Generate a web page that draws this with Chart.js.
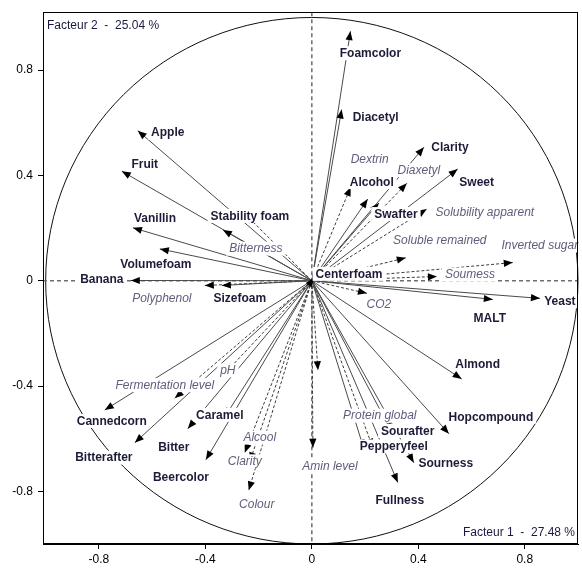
<!DOCTYPE html>
<html>
<head>
<meta charset="utf-8">
<script src="https://cdn.jsdelivr.net/npm/chart.js@4.4.1/dist/chart.umd.min.js"></script>
<style>
html, body { margin: 0; padding: 0; background: #fff; }
canvas { display: block; }
</style>
</head>
<body>
<canvas id="c" width="582" height="568"></canvas>
<script>
// Active variables (solid arrows, bold labels): coordinates on factors 1 and 2
const activeNames = ['Foamcolor','Diacetyl','Clarity','Sweet','Alcohol','Swafter','Centerfoam','Yeast','MALT','Almond',
  'Hopcompound','Sourafter','Pepperyfeel','Sourness','Fullness','Apple','Fruit','Vanillin','Stability foam','Volumefoam',
  'Banana','Sizefoam','Cannedcorn','Bitterafter','Bitter','Caramel','Beercolor'];
const activeF1 = [0.145,0.112,0.421,0.548,0.210,0.252,0.008,0.857,0.680,0.563,
  0.515,0.300,0.195,0.383,0.323,-0.654,-0.714,-0.672,-0.334,-0.571,
  -0.680,-0.338,-0.778,-0.665,-0.466,-0.327,-0.398];
const activeF2 = [0.948,0.650,0.507,0.424,0.310,0.295,0.011,-0.067,-0.071,-0.373,
  -0.581,-0.574,-0.637,-0.691,-0.766,0.570,0.416,0.201,0.193,0.121,
  0.001,-0.018,-0.491,-0.615,-0.562,-0.517,-0.680];

// Supplementary variables (dashed arrows, italic labels)
const supplNames = ['Dextrin','Diaxetyl','Solubility apparent','Soluble remained','Inverted sugar','Soumess','CO2',
  'Bitterness','Polyphenol','Fermentation level','pH','Alcool','Clarity','Colour','Amin level','Protein global',''];
const supplF1 = [0.146,0.357,0.432,0.353,0.755,0.470,0.207,-0.248,-0.402,-0.515,-0.323,-0.252,-0.233,-0.237,0.004,0.229,0.023];
const supplF2 = [0.356,0.370,0.272,0.087,0.069,0.016,-0.048,0.251,-0.018,-0.446,-0.348,-0.653,-0.686,-0.796,-0.634,-0.634,-0.340];

// Axis ticks and factor titles
const tickValues = [-0.8, -0.4, 0, 0.4, 0.8];
const factor1Title = 'Facteur 1  -  27.48 %';
const factor2Title = 'Facteur 2  -  25.04 %';

// Label placement: pixel offset of each label centre from its arrow tip
const activeNudge = {
  'Foamcolor':[20,22], 'Diacetyl':[34,8], 'Clarity':[26,0], 'Sweet':[19,13], 'Alcohol':[4,-17],
  'Swafter':[17,11], 'Centerfoam':[35,-4], 'Yeast':[20,3], 'MALT':[-3,19], 'Almond':[16,-15],
  'Hopcompound':[42,-17], 'Sourafter':[16,-1], 'Pepperyfeel':[30,-2], 'Sourness':[32,1], 'Fullness':[2,18],
  'Apple':[30,2], 'Fruit':[23,-7], 'Vanillin':[22,-10], 'Stability foam':[27,-14], 'Volumefoam':[-4,15],
  'Banana':[-29,-1], 'Sizefoam':[18,13], 'Cannedcorn':[7,11], 'Bitterafter':[-31,15], 'Bitter':[-14,18],
  'Caramel':[-5,-2], 'Beercolor':[-25,17]
};
const supplNudge = {
  'Dextrin':[19,-28], 'Diaxetyl':[12,-13], 'Solubility apparent':[58,3], 'Soluble remained':[34,-18],
  'Inverted sugar':[27,-17], 'Soumess':[33,-2], 'CO2':[12,11], 'Bitterness':[10,34], 'Polyphenol':[-43,13],
  'Fermentation level':[-10,-13], 'pH':[2,-2], 'Alcool':[15,-15], 'Clarity':[-5,0], 'Colour':[8,14],
  'Amin level':[17,19], 'Protein global':[7,-32], '':[0,0]
};

const FONT = "'Liberation Sans', Arial, sans-serif";
const BOLD_COLOR = '#1c1c38';
const ITALIC_COLOR = '#5e5e7c';

function arrowDataset(name, fx, fy, supplementary) {
  return {
    label: name,
    data: [{x: 0, y: 0}, {x: fx, y: fy}],
    showLine: true,
    pointRadius: 0,
    pointHoverRadius: 0,
    borderColor: supplementary ? '#3c3c3c' : '#4a4a4a',
    borderWidth: 1,
    borderDash: supplementary ? [3, 2] : [],
    supplementary: supplementary
  };
}

const datasets = [];
activeNames.forEach((n, i) => datasets.push(arrowDataset(n, activeF1[i], activeF2[i], false)));
supplNames.forEach((n, i) => datasets.push(arrowDataset(n, supplF1[i], supplF2[i], true)));

const decor = {
  id: 'circleOfCorrelations',
  beforeDatasetsDraw(chart) {
    const {ctx, chartArea: a, scales: {x, y}} = chart;
    const cx = x.getPixelForValue(0), cy = y.getPixelForValue(0);
    const rx = x.getPixelForValue(1) - cx, ry = cy - y.getPixelForValue(1);
    ctx.save();
    ctx.beginPath();
    ctx.ellipse(cx, cy, rx, ry, 0, 0, Math.PI * 2);
    ctx.strokeStyle = '#111';
    ctx.lineWidth = 1;
    ctx.stroke();
    ctx.setLineDash([4, 3]);
    ctx.strokeStyle = '#6e6e6e';
    ctx.lineWidth = 1.5;
    ctx.beginPath();
    ctx.moveTo(cx, a.top); ctx.lineTo(cx, a.bottom);
    ctx.moveTo(a.left, cy); ctx.lineTo(a.right, cy);
    ctx.stroke();
    ctx.restore();
  },
  afterDatasetsDraw(chart) {
    const ctx = chart.ctx;
    ctx.save();
    // arrowheads
    chart.data.datasets.forEach((ds, i) => {
      const pts = chart.getDatasetMeta(i).data;
      const p0 = pts[0], p1 = pts[1];
      const ang = Math.atan2(p1.y - p0.y, p1.x - p0.x);
      const L = 9, W = 3.6;
      ctx.beginPath();
      ctx.moveTo(p1.x, p1.y);
      ctx.lineTo(p1.x - L * Math.cos(ang) + W * Math.sin(ang), p1.y - L * Math.sin(ang) - W * Math.cos(ang));
      ctx.lineTo(p1.x - L * Math.cos(ang) - W * Math.sin(ang), p1.y - L * Math.sin(ang) + W * Math.cos(ang));
      ctx.closePath();
      ctx.fillStyle = '#000';
      ctx.fill();
    });
    // labels on white boxes
    ctx.textAlign = 'center';
    ctx.textBaseline = 'middle';
    chart.data.datasets.forEach((ds, i) => {
      if (!ds.label) return;
      const p1 = chart.getDatasetMeta(i).data[1];
      const nudge = (ds.supplementary ? supplNudge : activeNudge)[ds.label] || [0, 0];
      const lx = p1.x + nudge[0], ly = p1.y + nudge[1];
      ctx.font = (ds.supplementary ? 'italic ' : 'bold ') + '12px ' + FONT;
      const w = ctx.measureText(ds.label).width + 6;
      ctx.fillStyle = '#fff';
      ctx.fillRect(lx - w / 2, ly - 7, w, 14);
      ctx.fillStyle = ds.supplementary ? ITALIC_COLOR : BOLD_COLOR;
      ctx.fillText(ds.label, lx, ly + 0.5);
    });
    ctx.restore();
  },
  afterDraw(chart) {
    const {ctx, chartArea: a} = chart;
    ctx.save();
    ctx.strokeStyle = '#000';
    ctx.lineWidth = 1;
    ctx.strokeRect(Math.round(a.left) + 0.5, Math.round(a.top) + 0.5, Math.round(a.right - a.left) - 1, Math.round(a.bottom - a.top) - 1);
    ctx.font = '12px ' + FONT;
    ctx.fillStyle = '#1a1a40';
    ctx.textBaseline = 'middle';
    ctx.textAlign = 'left';
    ctx.fillText(factor2Title, a.left + 4, a.top + 13);
    ctx.textAlign = 'right';
    ctx.fillText(factor1Title, a.right - 3, a.bottom - 11);
    ctx.restore();
  }
};

const axisCommon = {
  type: 'linear',
  grid: { display: true, drawOnChartArea: false, drawTicks: true, tickLength: 5, color: '#000', lineWidth: 1 },
  border: { display: true, color: '#000', width: 1 },
  afterBuildTicks: s => { s.ticks = tickValues.map(v => ({value: v})); },
  ticks: {
    color: '#000',
    font: { family: FONT, size: 12 },
    callback: v => (Math.abs(v) < 1e-9 ? '0' : v.toFixed(1))
  }
};

new Chart(document.getElementById('c'), {
  type: 'scatter',
  data: { datasets },
  options: {
    responsive: false,
    animation: false,
    events: [],
    layout: { padding: { top: 9, right: 4, left: 0, bottom: 0 } },
    plugins: { legend: { display: false }, tooltip: { enabled: false } },
    scales: {
      x: Object.assign({}, axisCommon, {
        min: -1.01, max: 1.0,
        ticks: Object.assign({}, axisCommon.ticks, { padding: 3, maxRotation: 0 }),
        afterFit: s => { s.height = 24; }
      }),
      y: Object.assign({}, axisCommon, {
        min: -1.0, max: 1.02,
        ticks: Object.assign({}, axisCommon.ticks, { padding: 5 }),
        afterFit: s => { s.width = 43; }
      })
    }
  },
  plugins: [decor]
});
</script>
</body>
</html>
